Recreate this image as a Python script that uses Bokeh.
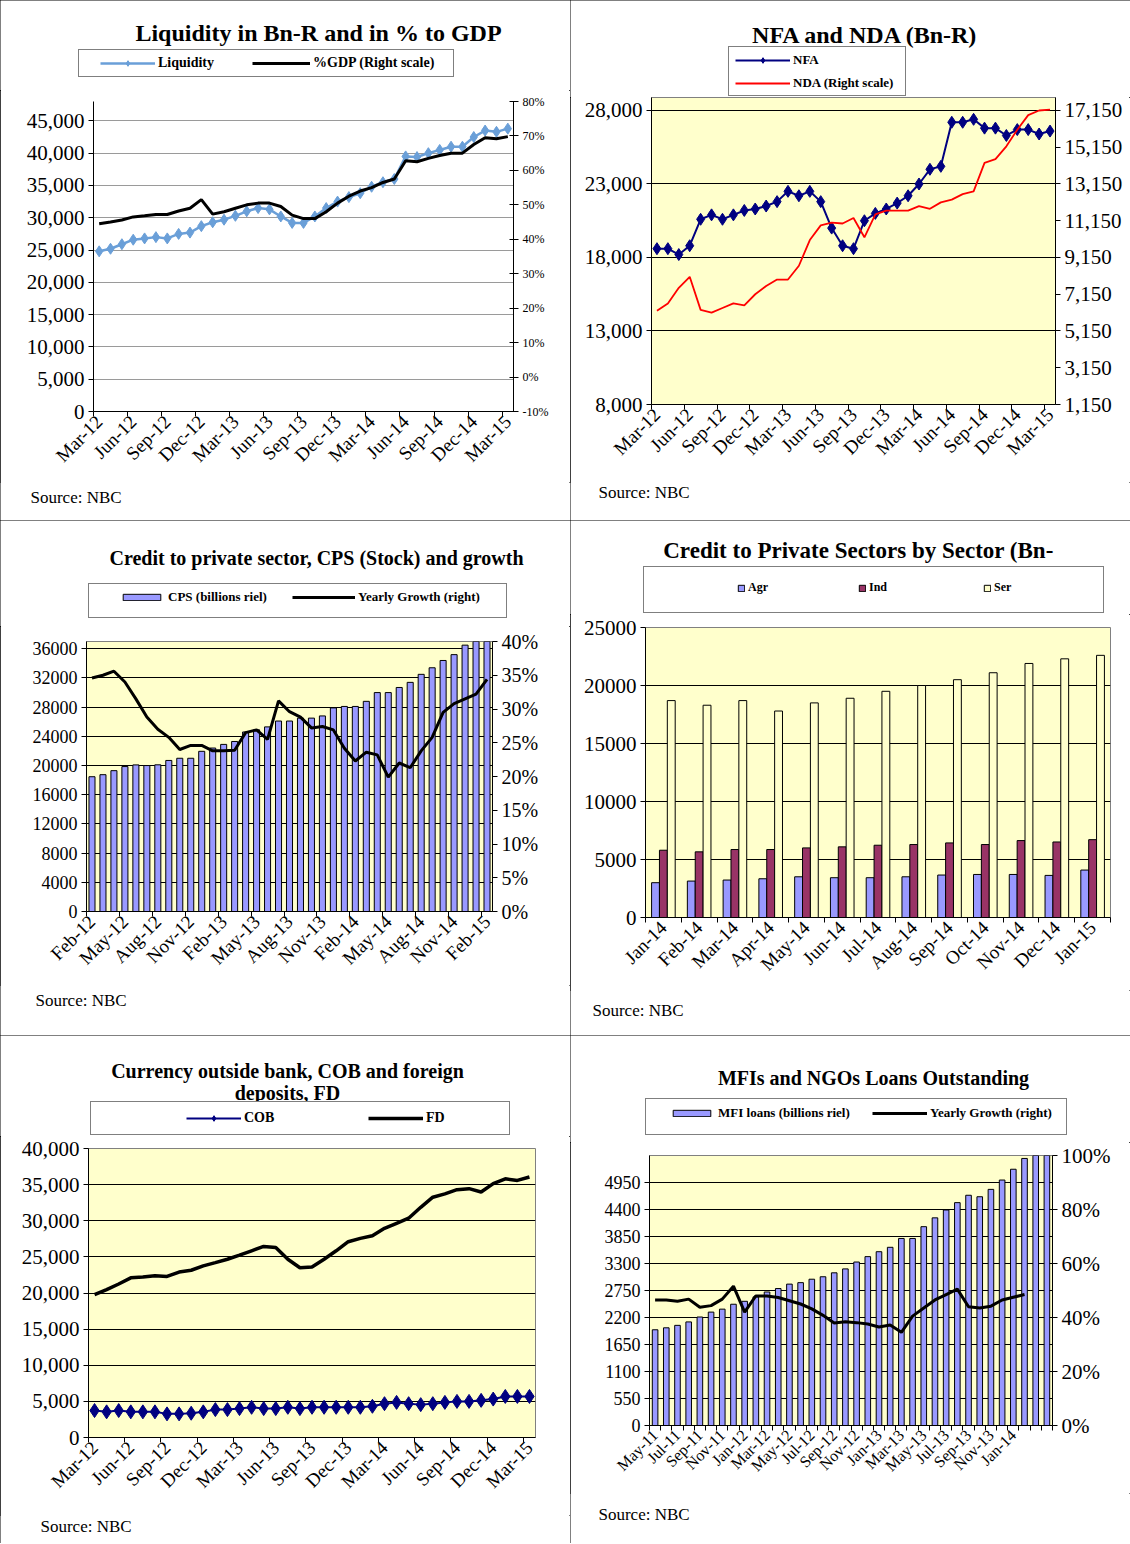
import math
from bokeh.plotting import figure
from bokeh.models import (Range1d, LinearAxis, FixedTicker, Label, Legend, LegendItem,
                          NumeralTickFormatter, PrintfTickFormatter)
from bokeh.layouts import column, row
from bokeh.embed import file_html
from bokeh.resources import INLINE

# ---------------- data ----------------
q_mar_labels = ["Mar-12", "Jun-12", "Sep-12", "Dec-12", "Mar-13", "Jun-13", "Sep-13",
                "Dec-13", "Mar-14", "Jun-14", "Sep-14", "Dec-14", "Mar-15"]
q_feb_labels = ["Feb-12", "May-12", "Aug-12", "Nov-12", "Feb-13", "May-13", "Aug-13",
                "Nov-13", "Feb-14", "May-14", "Aug-14", "Nov-14", "Feb-15"]

liquidity = [24800, 25200, 25900, 26600, 26800, 27000, 26800, 27500, 27700, 28700,
             29300, 29700, 30300, 31000, 31500, 31300, 30200, 29200, 29200, 30200,
             31500, 32500, 33200, 33800, 34800, 35500, 36000, 39500, 39400, 40000,
             40500, 41000, 41000, 42500, 43500, 43300, 43800]
gdp_pct = [44.5, 45.0, 45.6, 46.5, 46.8, 47.2, 47.2, 48.2, 49.0, 51.5,
           47.3, 48.0, 49.0, 50.0, 50.5, 50.5, 49.5, 47.0, 46.0, 46.0,
           48.0, 50.5, 52.5, 54.0, 55.0, 56.5, 57.5, 62.8, 62.5, 63.5,
           64.3, 65.0, 65.0, 67.5, 69.5, 69.2, 69.8]

nfa = [18600, 18600, 18200, 18800, 20600, 20900, 20600, 20900, 21200, 21300,
       21500, 21800, 22500, 22200, 22500, 21800, 20000, 18800, 18600, 20500,
       21000, 21300, 21700, 22200, 23000, 24000, 24200, 27200, 27200, 27400,
       26800, 26800, 26300, 26700, 26700, 26400, 26600]
nda = [6250, 6650, 7500, 8100, 6300, 6150, 6400, 6650, 6550, 7150,
       7600, 7950, 7950, 8700, 10100, 10900, 11050, 11000, 11300, 10250,
       11500, 11700, 11700, 11700, 11950, 11800, 12150, 12300, 12600, 12750,
       14300, 14500, 15200, 16100, 16900, 17150, 17200]

cps = [18470, 18750, 19300, 19860, 20090, 20000, 20100, 20700, 21000, 21000,
       21950, 22400, 22900, 23300, 24600, 24900, 25300, 26100, 26100, 26500,
       26500, 26800, 27900, 28100, 28100, 28800, 30000, 30000, 30700, 31400,
       32500, 33400, 34400, 35200, 36500, 37000, 37600]
cps_growth = [34.6, 35.0, 35.6, 34.0, 31.5, 28.8, 27.0, 25.8, 24.0, 24.6,
              24.6, 23.8, 23.8, 23.9, 26.5, 26.9, 25.5, 31.2, 29.6, 28.8,
              27.2, 27.4, 26.9, 24.2, 22.3, 23.6, 23.2, 19.9, 22.0, 21.3,
              23.8, 25.8, 29.5, 30.8, 31.5, 32.2, 34.4]

sector_months = ["Jan-14", "Feb-14", "Mar-14", "Apr-14", "May-14", "Jun-14", "Jul-14",
                 "Aug-14", "Sep-14", "Oct-14", "Nov-14", "Dec-14", "Jan-15"]
agr = [3000, 3140, 3230, 3340, 3510, 3430, 3430, 3510, 3660, 3710, 3710, 3630, 4090]
ind = [5800, 5660, 5860, 5860, 6000, 6090, 6230, 6290, 6430, 6290, 6630, 6510, 6710]
ser = [18700, 18300, 18700, 17800, 18500, 18900, 19500, 20000, 20500, 21100, 21900, 22300, 22600]

cob = [3730, 3550, 3730, 3550, 3550, 3550, 3270, 3270, 3360, 3550,
       3860, 3860, 4000, 4180, 4000, 4000, 4180, 4000, 4180, 4180,
       4180, 4180, 4180, 4320, 4680, 4860, 4680, 4550, 4680, 4860,
       5000, 5000, 5140, 5320, 5680, 5680, 5680]
fd = [19770, 20470, 21250, 22100, 22200, 22400, 22300, 22900, 23150, 23750,
      24200, 24670, 25230, 25840, 26440, 26300, 24670, 23500, 23600, 24670,
      25840, 27100, 27560, 27930, 28950, 29650, 30350, 31860, 33260, 33720,
      34300, 34440, 33980, 35140, 35810, 35580, 36050]

mfi_labels = ["May-11", "Jul-11", "Sep-11", "Nov-11", "Jan-12", "Mar-12", "May-12", "Jul-12",
              "Sep-12", "Nov-12", "Jan-13", "Mar-13", "May-13", "Jul-13", "Sep-13", "Nov-13", "Jan-14"]
mfi = [1950, 1990, 2040, 2110, 2210, 2310, 2370, 2470, 2530, 2620,
       2720, 2790, 2880, 2910, 2980, 3030, 3110, 3190, 3330, 3440,
       3540, 3630, 3810, 3810, 4050, 4230, 4390, 4540, 4690, 4660,
       4810, 5000, 5220, 5440, 5600, 5700]
mfi_growth = [46.5, 46.5, 46.0, 46.8, 43.8, 44.4, 46.8, 51.6, 42.0, 48.0,
              48.0, 47.4, 46.2, 45.0, 43.2, 40.8, 38.0, 38.4, 38.1, 37.6,
              36.5, 37.2, 34.5, 40.5, 43.5, 46.5, 48.5, 50.5, 44.0, 43.5,
              44.2, 46.5, 47.5, 48.5]

# ---------------- style helpers ----------------
SERIF = "Liberation Serif"
YEL = "#FFFFCC"
NAVY = "#000080"
LAV = "#9999FF"
PLUM = "#993366"
LIQ = "#6A9FD8"


def deco_fig(W, H):
    p = figure(width=W, height=H, x_range=Range1d(0, 1), y_range=Range1d(0, 1),
               output_backend="svg", toolbar_location=None, x_axis_type=None, y_axis_type=None,
               min_border=0, min_border_left=0, min_border_right=0, min_border_top=0,
               min_border_bottom=0, background_fill_color="white", border_fill_color="white",
               frame_align=False)
    p.outline_line_color = None
    return p


class Panel:
    def __init__(self, ox, oy, W, H, top_h, bot_h, frame, xr, yr, bg, outline, grid):
        L, T, R, B = frame
        self.ox, self.oy, self.W, self.H = ox, oy, W, H
        self.top_bottom = oy + top_h
        main_top = oy + top_h
        main_h = H - top_h - bot_h
        main_bottom = main_top + main_h
        self.top = deco_fig(W, top_h)
        self.bot = deco_fig(W, bot_h)
        p = figure(width=W, height=main_h, x_range=xr, y_range=yr, output_backend="svg",
                   toolbar_location=None, frame_align=False,
                   min_border_left=int(L - ox), min_border_top=int(T - main_top),
                   min_border_right=int(W - (R - ox)), min_border_bottom=int(main_bottom - B),
                   background_fill_color=bg, border_fill_color="white")
        p.outline_line_color = outline
        p.xgrid.visible = False
        p.ygrid.grid_line_color = grid
        p.ygrid.grid_line_width = 1
        self.p = p

    def text_top(self, x, y, s, size, bold=False, align="left"):
        add_text(self.top, x - self.ox, self.top_bottom - y, s, size, bold, align)

    def text_bot(self, x, y, s, size, bold=False, align="left"):
        add_text(self.bot, x - self.ox, self.oy + self.H - y, s, size, bold, align)

    def box(self, x0, y0, x1, y1):
        f = self.top
        dummy = f.line(x=[-1, -1], y=[-1, -1], line_alpha=0)
        h = int(round(y1 - y0))
        w = int(round(x1 - x0))
        lg = Legend(items=[LegendItem(label=" ", renderers=[dummy])],
                    location=(x0 - self.ox, self.top_bottom - y1), padding=0, margin=0, spacing=0,
                    glyph_width=1, glyph_height=h, label_width=w - 1, label_height=h,
                    label_standoff=0, border_line_color="black", border_line_width=1,
                    background_fill_color="white", background_fill_alpha=1,
                    label_text_font_size="1px")
        f.add_layout(lg)

    def item(self, x, ym, rends, label, gw, gh, size):
        lg = Legend(items=[LegendItem(label=label, renderers=rends)],
                    location=(x - self.ox, self.top_bottom - ym - gh / 2), padding=0, margin=0,
                    spacing=0, glyph_width=gw, glyph_height=gh, label_height=gh, label_standoff=3,
                    border_line_color=None, background_fill_alpha=0,
                    label_text_font=SERIF, label_text_font_size=f"{size}px",
                    label_text_font_style="bold", label_text_color="black")
        self.top.add_layout(lg)

    def layout(self):
        return column(self.top, self.p, self.bot,
                      styles={"outline": "1px solid #000", "outline-offset": "-1px"})


def add_text(f, x, y, s, size, bold, align):
    f.add_layout(Label(x=x, y=y, x_units="screen", y_units="screen", text=s,
                       text_font=SERIF, text_font_size=f"{size}px",
                       text_font_style="bold" if bold else "normal",
                       text_align=align, text_baseline="middle", text_color="black"))


def style_axis(ax, size):
    ax.axis_line_color = "black"
    ax.axis_line_width = 1
    ax.major_label_text_font = SERIF
    ax.major_label_text_font_size = f"{size}px"
    ax.major_label_text_color = "black"
    ax.major_tick_line_color = "black"
    ax.major_tick_out = 5
    ax.major_tick_in = 0
    ax.minor_tick_line_color = None
    ax.major_label_standoff = 4


def y_axis(p, ticks, size, fmt):
    ax = p.yaxis[0]
    style_axis(ax, size)
    t = FixedTicker(ticks=ticks)
    ax.ticker = t
    p.ygrid[0].ticker = t
    ax.formatter = fmt


def right_axis(p, name, rng, ticks, size, fmt, tin=0):
    p.extra_y_ranges = {name: rng}
    ax = LinearAxis(y_range_name=name)
    style_axis(ax, size)
    ax.ticker = FixedTicker(ticks=ticks)
    ax.formatter = fmt
    ax.major_tick_in = tin
    p.add_layout(ax, "right")


def cat_axis(p, centers, labels, bounds, size):
    ax = p.xaxis[0]
    style_axis(ax, size)
    ax.ticker = FixedTicker(ticks=centers, minor_ticks=bounds)
    ax.major_label_overrides = {c: l for c, l in zip(centers, labels)}
    ax.major_label_orientation = math.pi / 4
    ax.major_tick_line_color = None
    ax.minor_tick_line_color = "black"
    ax.minor_tick_out = 5
    ax.minor_tick_in = 0
    ax.major_label_standoff = 2


n37 = [i + 0.5 for i in range(37)]
q_centers = [i * 3 + 0.5 for i in range(13)]
q_bounds = [i * 3 for i in range(13)]

# ---------------- panel 1: Liquidity ----------------
P1 = Panel(0, 0, 570, 520, 90, 38, (93, 101, 513, 411), Range1d(0, 37), Range1d(0, 48000),
           "white", None, "#9a9a9a")
p1 = P1.p
y_axis(p1, list(range(0, 45001, 5000)), 21, NumeralTickFormatter(format="0,0"))
right_axis(p1, "pct", Range1d(-10, 80), list(range(-10, 81, 10)), 12,
           PrintfTickFormatter(format="%d%%"), tin=4)
cat_axis(p1, q_centers, q_mar_labels, q_bounds, 19)
p1.line(n37, liquidity, line_color=LIQ, line_width=2.5)
p1.scatter(n37, liquidity, marker="diamond", size=11, fill_color=LIQ, line_color=LIQ)
p1.line(n37, gdp_pct, y_range_name="pct", line_color="black", line_width=3)
P1.text_top(318, 32, "Liquidity in Bn-R and in % to GDP", 24, bold=True, align="center")
P1.box(78, 51, 452, 77)
t = P1.top
k1 = t.line([-1, -1], [-1, -1], line_color=LIQ, line_width=2.5)
k2 = t.scatter([-1], [-1], marker="diamond", size=11, fill_color=LIQ, line_color=LIQ)
k3 = t.line([-1, -1], [-1, -1], line_color="black", line_width=3)
P1.item(100, 64, [k1, k2], "Liquidity", 55, 14, 14)
P1.item(252, 64, [k3], "%GDP (Right scale)", 58, 14, 14)
P1.text_bot(30, 497, "Source: NBC", 17)

# ---------------- panel 2: NFA / NDA ----------------
top2 = 28884
P2 = Panel(570, 0, 560, 520, 97, 38, (651, 97, 1055, 404), Range1d(0, 37), Range1d(8000, top2),
           YEL, "#808080", "black")
p2 = P2.p
y_axis(p2, list(range(8000, 28001, 5000)), 21, NumeralTickFormatter(format="0,0"))
right_axis(p2, "nda", Range1d(1150, 1150 + 0.8 * (top2 - 8000)), list(range(1150, 17151, 2000)), 21,
           NumeralTickFormatter(format="0,0"))
cat_axis(p2, q_centers, q_mar_labels, q_bounds, 19)
p2.line(n37, nfa, line_color=NAVY, line_width=2)
p2.scatter(n37, nfa, marker="diamond", size=12, fill_color=NAVY, line_color=NAVY)
p2.line(n37, nda, y_range_name="nda", line_color="red", line_width=1.8)
P2.text_top(865, 34, "NFA and NDA (Bn-R)", 24, bold=True, align="center")
P2.box(728, 48, 904, 96)
t = P2.top
k1 = t.line([-1, -1], [-1, -1], line_color=NAVY, line_width=2)
k2 = t.scatter([-1], [-1], marker="diamond", size=10, fill_color=NAVY, line_color=NAVY)
k3 = t.line([-1, -1], [-1, -1], line_color="red", line_width=1.8)
P2.item(735, 61, [k1, k2], "NFA", 55, 14, 13)
P2.item(735, 84, [k3], "NDA (Right scale)", 55, 14, 13)
P2.text_bot(598, 492, "Source: NBC", 17)

# ---------------- panel 3: CPS ----------------
P3 = Panel(0, 520, 570, 515, 106, 50, (86, 641, 492, 911), Range1d(0, 37), Range1d(0, 37000),
           YEL, "#808080", "black")
p3 = P3.p
y_axis(p3, list(range(0, 36001, 4000)), 18, NumeralTickFormatter(format="0"))
right_axis(p3, "pct", Range1d(0, 40), list(range(0, 41, 5)), 20, PrintfTickFormatter(format="%d%%"))
cat_axis(p3, q_centers, q_feb_labels, q_bounds, 19)
p3.vbar(x=n37, top=cps, width=0.55, bottom=0, fill_color=LAV, line_color="black", line_width=1)
p3.line(n37, cps_growth, y_range_name="pct", line_color="black", line_width=3)
P3.text_top(316, 557, "Credit to private sector, CPS (Stock) and growth", 20, bold=True, align="center")
P3.box(88, 585, 505, 618)
t = P3.top
k1 = t.vbar(x=[-1], top=[-1], width=0.5, fill_color=LAV, line_color="black")
k2 = t.line([-1, -1], [-1, -1], line_color="black", line_width=3)
P3.item(118, 601, [k1], "CPS (billions riel)", 47, 8, 13)
P3.item(292, 601, [k2], "Yearly Growth (right)", 63, 8, 13)
P3.text_bot(35, 1000, "Source: NBC", 17)

# ---------------- panel 4: sectors ----------------
n13 = [i + 0.5 for i in range(13)]
P4 = Panel(570, 520, 560, 515, 94, 45, (645, 627, 1110, 917), Range1d(0, 13), Range1d(0, 25000),
           YEL, "#808080", "black")
p4 = P4.p
y_axis(p4, list(range(0, 25001, 5000)), 21, NumeralTickFormatter(format="0"))
cat_axis(p4, n13, sector_months, list(range(14)), 19)
p4.vbar(x=[c - 0.22 for c in n13], top=agr, width=0.22, fill_color=LAV, line_color="black")
p4.vbar(x=n13, top=ind, width=0.22, fill_color=PLUM, line_color="black")
p4.vbar(x=[c + 0.22 for c in n13], top=ser, width=0.22, fill_color=YEL, line_color="black")
P4.text_top(858, 550, "Credit to Private Sectors by Sector (Bn-", 23, bold=True, align="center")
P4.box(643, 568, 1102, 613)
t = P4.top
k1 = t.vbar(x=[-1], top=[-1], width=0.5, fill_color=LAV, line_color="black")
k2 = t.vbar(x=[-1], top=[-1], width=0.5, fill_color=PLUM, line_color="black")
k3 = t.vbar(x=[-1], top=[-1], width=0.5, fill_color=YEL, line_color="black")
P4.item(737, 591, [k1], "Agr", 8, 8, 12)
P4.item(858, 591, [k2], "Ind", 8, 8, 12)
P4.item(983, 591, [k3], "Ser", 8, 8, 12)
P4.text_bot(592, 1010, "Source: NBC", 17)

# ---------------- panel 5: COB / FD ----------------
P5 = Panel(0, 1035, 570, 508, 101, 28, (88, 1148, 535, 1437), Range1d(0, 37), Range1d(0, 40000),
           YEL, "#808080", "black")
p5 = P5.p
y_axis(p5, list(range(0, 40001, 5000)), 21, NumeralTickFormatter(format="0,0"))
cat_axis(p5, q_centers, q_mar_labels, q_bounds, 19)
p5.line(n37, cob, line_color=NAVY, line_width=2)
p5.scatter(n37, cob, marker="diamond", size=14, fill_color=NAVY, line_color=NAVY)
p5.line(n37, fd, line_color="black", line_width=3.5)
P5.text_top(287, 1070, "Currency outside bank, COB and foreign", 20, bold=True, align="center")
P5.text_top(287, 1092, "deposits, FD", 20, bold=True, align="center")
P5.box(90, 1103, 508, 1135)
t = P5.top
k1 = t.line([-1, -1], [-1, -1], line_color=NAVY, line_width=2)
k2 = t.scatter([-1], [-1], marker="diamond", size=10, fill_color=NAVY, line_color=NAVY)
k3 = t.line([-1, -1], [-1, -1], line_color="black", line_width=3.5)
P5.item(186, 1119, [k1, k2], "COB", 55, 14, 14)
P5.item(368, 1119, [k3], "FD", 55, 14, 14)
P5.text_bot(40, 1526, "Source: NBC", 17)

# ---------------- panel 6: MFI ----------------
n36 = [i + 0.5 for i in range(36)]
mfi_centers = [i * 2 + 0.5 for i in range(17)]
P6 = Panel(570, 1035, 560, 508, 107, 50, (649, 1155, 1052, 1425), Range1d(0, 36), Range1d(0, 5500),
           YEL, "#808080", "black")
p6 = P6.p
y_axis(p6, list(range(0, 4951, 550)), 18, NumeralTickFormatter(format="0"))
right_axis(p6, "pct", Range1d(0, 100), list(range(0, 101, 20)), 21, PrintfTickFormatter(format="%d%%"))
cat_axis(p6, mfi_centers, mfi_labels, list(range(37)), 16)
p6.vbar(x=n36, top=mfi, width=0.5, fill_color=LAV, line_color="black", line_width=1)
p6.line(n36[:len(mfi_growth)], mfi_growth, y_range_name="pct", line_color="black", line_width=3)
P6.text_top(873, 1077, "MFIs and NGOs Loans Outstanding", 20, bold=True, align="center")
P6.box(645, 1100, 1065, 1135)
t = P6.top
k1 = t.vbar(x=[-1], top=[-1], width=0.5, fill_color=LAV, line_color="black")
k2 = t.line([-1, -1], [-1, -1], line_color="black", line_width=3)
P6.item(668, 1117, [k1], "MFI loans (billions riel)", 47, 8, 13)
P6.item(872, 1117, [k2], "Yearly Growth (right)", 55, 8, 13)
P6.text_bot(598, 1514, "Source: NBC", 17)

layout = column(row(P1.layout(), P2.layout()), row(P3.layout(), P4.layout()),
                row(P5.layout(), P6.layout()))
open("out.html", "w").write(file_html(layout, INLINE))
